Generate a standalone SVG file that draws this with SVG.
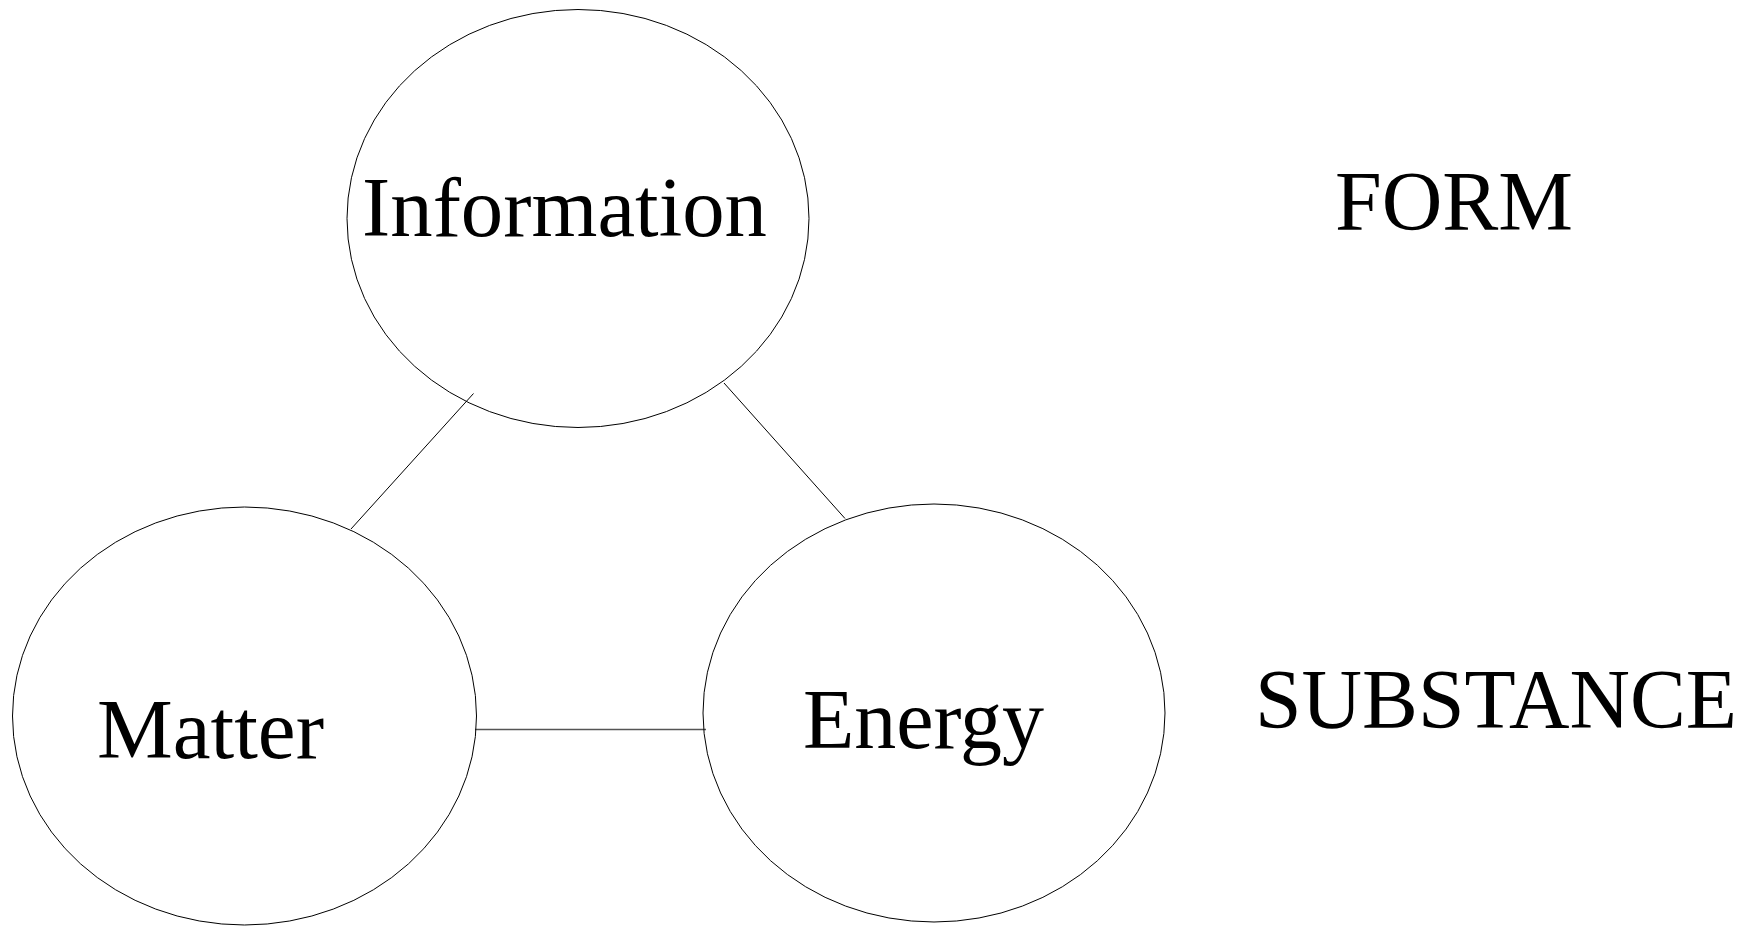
<svg xmlns="http://www.w3.org/2000/svg" width="1756" height="926" viewBox="0 0 1756 926">
<style>
.node{fill:#fff;stroke:#000;stroke-width:1}
.lbl{font-family:"Liberation Serif","Times New Roman",serif;font-size:85px;fill:#000}
.conn{stroke:#000;stroke-width:1;fill:none}
.conn2{stroke:#555;stroke-width:1.6;fill:none}
</style>
<rect width="1756" height="926" fill="#fff"/>
<g id="connectors">
<line class="conn" x1="473.5" y1="393.5" x2="351" y2="529"/>
<line class="conn" x1="724" y1="383" x2="845" y2="518.5"/>
<line class="conn2" x1="475" y1="729.5" x2="706" y2="729.5"/>
</g>
<g id="information">
<ellipse class="node" cx="578" cy="218.5" rx="231" ry="209" fill="none" style="fill:none"/>
<text class="lbl" x="362" y="236" textLength="405" lengthAdjust="spacingAndGlyphs">Information</text>
</g>
<g id="matter">
<ellipse class="node" cx="244.5" cy="716" rx="232" ry="209" style="fill:none"/>
<text class="lbl" x="97" y="758" textLength="227" lengthAdjust="spacingAndGlyphs">Matter</text>
</g>
<g id="energy">
<ellipse class="node" cx="934" cy="713" rx="231" ry="209" style="fill:none"/>
<text class="lbl" x="803" y="748" textLength="241" lengthAdjust="spacingAndGlyphs">Energy</text>
</g>
<g id="form">
<text class="lbl" x="1335" y="230" textLength="238" lengthAdjust="spacingAndGlyphs">FORM</text>
</g>
<g id="substance">
<text class="lbl" x="1255" y="728" textLength="482" lengthAdjust="spacingAndGlyphs">SUBSTANCE</text>
</g>
</svg>
